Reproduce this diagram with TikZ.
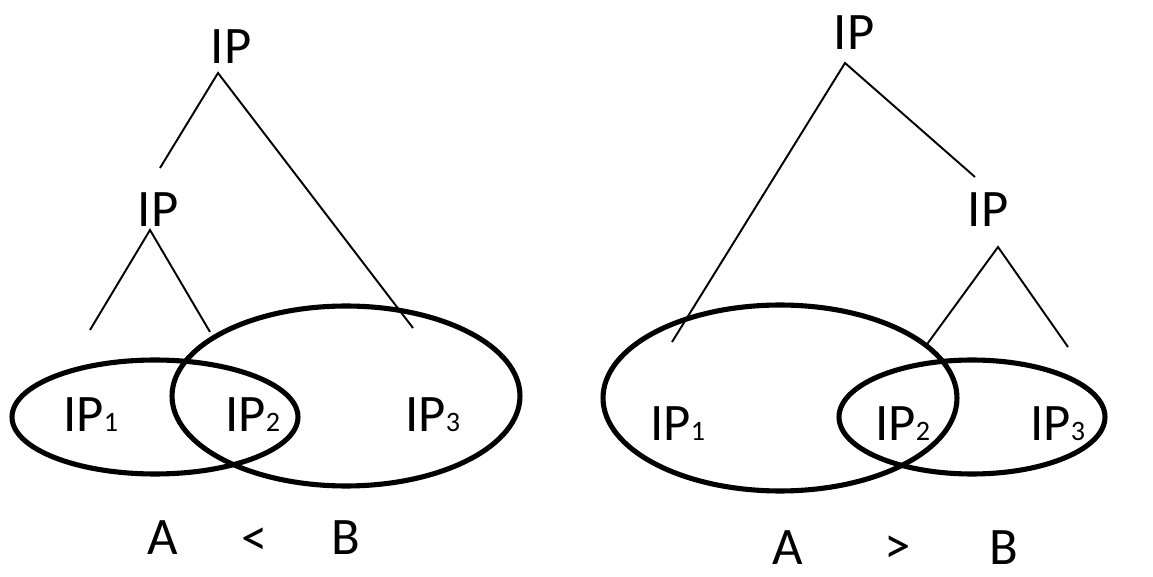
\documentclass[tikz,border=0pt]{standalone}
\usepackage{fontspec}
\setmainfont{Carlito}
\usetikzlibrary{shapes.geometric}
\newcommand{\ipsub}[1]{IP{\fontsize{16}{16}\selectfont #1}}
\tikzset{
  lbl/.style={inner sep=0pt, font=\fontsize{30}{30}\selectfont},
  sublbl/.style={inner sep=0pt, anchor=base west, font=\fontsize{30}{30}\selectfont},
  branch/.style={line width=1.1pt},
  venn/.style={draw, ellipse, line width=2.9pt, inner sep=0pt},
}
\begin{document}
\begin{tikzpicture}[x=0.02cm, y=-0.02cm]
\useasboundingbox (0,0) rectangle (1153,577);
% ---------- left tree ----------
\node[lbl] (Ltop) at (231,47) {IP};
\node[lbl] (Lmid) at (158,210) {IP};
\coordinate (LtopA) at (218,73);
\coordinate (LtopL) at (160,168);
\coordinate (LtopR) at (413,328);
\coordinate (LmidA) at (150,230);
\coordinate (LmidL) at (90,330);
\coordinate (LmidR) at (210,332);
\draw[branch] (LtopL) -- (LtopA) -- (LtopR);
\draw[branch] (LmidL) -- (LmidA) -- (LmidR);
\node[venn, minimum width=5.72cm, minimum height=2.28cm] (Lsmall) at (155,417) {};
\node[venn, minimum width=6.96cm, minimum height=3.6cm] (Lbig) at (346,396) {};
\node[sublbl] (Lip1) at (63,432) {\ipsub{1}};
\node[sublbl] (Lip2) at (225,432) {\ipsub{2}};
\node[sublbl] (Lip3) at (405,432) {\ipsub{3}};
\node[lbl] (LA) at (163,538) {A};
\node[lbl] (Llt) at (255,542) {<};
\node[lbl] (LB) at (346,538) {B};
% ---------- right tree ----------
\node[lbl] (Rtop) at (854,33) {IP};
\node[lbl] (Rmid) at (988,210) {IP};
\coordinate (RtopA) at (845,63);
\coordinate (RtopL) at (672,342);
\coordinate (RtopR) at (975,177);
\coordinate (RmidA) at (998,247);
\coordinate (RmidL) at (925,347);
\coordinate (RmidR) at (1068,347);
\draw[branch] (RtopL) -- (RtopA) -- (RtopR);
\draw[branch] (RmidL) -- (RmidA) -- (RmidR);
\node[venn, minimum width=7.08cm, minimum height=3.72cm] (Rbig) at (780,398) {};
\node[venn, minimum width=5.32cm, minimum height=2.28cm] (Rsmall) at (972,417) {};
\node[sublbl] (Rip1) at (650,440) {\ipsub{1}};
\node[sublbl] (Rip2) at (875,440) {\ipsub{2}};
\node[sublbl] (Rip3) at (1030,440) {\ipsub{3}};
\node[lbl] (RA) at (788,548) {A};
\node[lbl] (Rgt) at (898,550) {>};
\node[lbl] (RB) at (1004,548) {B};
\end{tikzpicture}
\end{document}
